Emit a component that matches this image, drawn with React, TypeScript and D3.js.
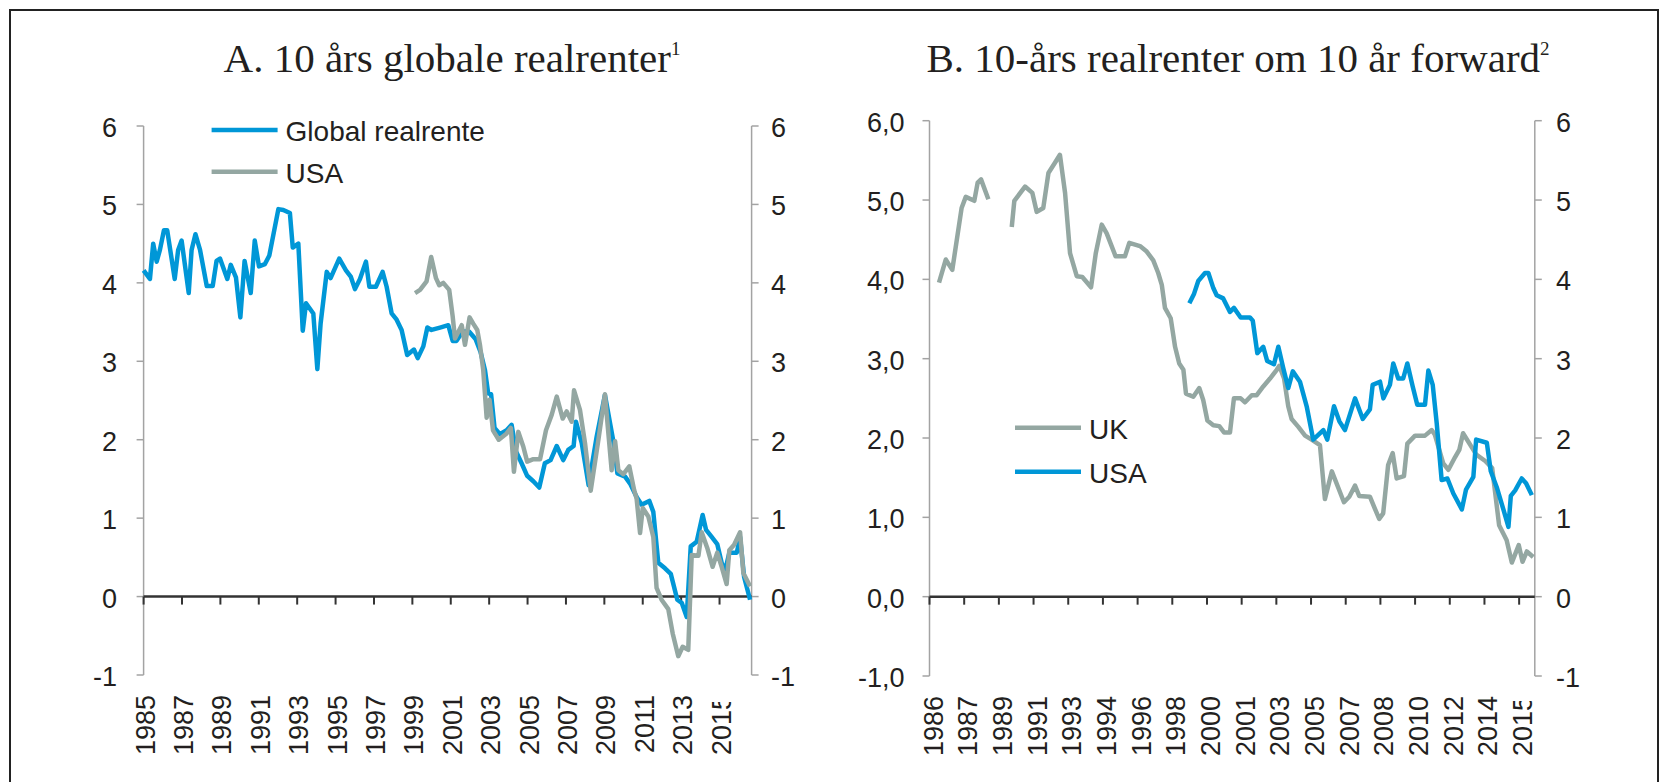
import React from 'react';
import * as d3 from 'd3';

// Panel A: 10 års globale realrenter (year, value)
const globalRealrente: [number, number][] = [
	[1985.0, 4.16], [1985.33, 4.05], [1985.5, 4.5], [1985.68, 4.27], [1985.85, 4.42], [1986.06, 4.67],
	[1986.23, 4.67], [1986.62, 4.05], [1986.8, 4.42], [1986.98, 4.54], [1987.35, 3.87], [1987.5, 4.42],
	[1987.7, 4.62], [1987.94, 4.42], [1988.29, 3.96], [1988.6, 3.96], [1988.8, 4.28], [1988.98, 4.31],
	[1989.36, 4.05], [1989.54, 4.23], [1989.81, 4.07], [1990.04, 3.56], [1990.26, 4.28], [1990.58, 3.87],
	[1990.79, 4.54], [1991.01, 4.21], [1991.32, 4.24], [1991.55, 4.35], [1992.02, 4.94], [1992.28, 4.93],
	[1992.62, 4.89], [1992.77, 4.45], [1993.06, 4.5], [1993.29, 3.39], [1993.46, 3.74], [1993.84, 3.61],
	[1994.05, 2.9], [1994.22, 3.48], [1994.54, 4.14], [1994.74, 4.06], [1995.19, 4.31], [1995.54, 4.16],
	[1995.79, 4.08], [1996.01, 3.92], [1996.27, 4.05], [1996.58, 4.27], [1996.76, 3.95], [1997.1, 3.95],
	[1997.45, 4.14], [1997.66, 3.95], [1997.92, 3.61], [1998.18, 3.53], [1998.44, 3.4], [1998.73, 3.08],
	[1999.08, 3.15], [1999.28, 3.04], [1999.57, 3.19], [1999.78, 3.43], [2000.0, 3.4], [2000.44, 3.43],
	[2000.87, 3.46], [2001.1, 3.26], [2001.3, 3.26], [2001.62, 3.38], [2001.95, 3.38], [2002.3, 3.28],
	[2002.55, 3.12], [2002.78, 2.89], [2002.95, 2.59], [2003.1, 2.58], [2003.28, 2.15], [2003.56, 2.07],
	[2003.91, 2.12], [2004.17, 2.19], [2004.4, 1.85], [2004.69, 1.7], [2004.98, 1.54], [2005.3, 1.47],
	[2005.61, 1.39], [2005.9, 1.7], [2006.2, 1.74], [2006.52, 1.92], [2006.86, 1.74], [2007.12, 1.87],
	[2007.4, 1.92], [2007.52, 2.23], [2007.82, 1.96], [2008.18, 1.42], [2008.6, 2.04], [2009.03, 2.57],
	[2009.47, 1.98], [2009.68, 1.57], [2010.08, 1.53], [2010.34, 1.44], [2010.68, 1.27], [2010.94, 1.17],
	[2011.34, 1.22], [2011.55, 1.08], [2011.81, 0.43], [2012.16, 0.36], [2012.46, 0.29], [2012.8, -0.04],
	[2013.03, -0.08], [2013.29, -0.26], [2013.5, 0.64], [2013.81, 0.7], [2014.12, 1.04], [2014.3, 0.85],
	[2014.59, 0.76], [2014.88, 0.67], [2015.11, 0.43], [2015.28, 0.32], [2015.51, 0.56], [2015.9, 0.56],
	[2016.07, 0.76], [2016.28, 0.25], [2016.59, -0.04],
];

const usaA: [number, number][] = [
	[1999.14, 3.87], [1999.4, 3.91], [1999.74, 4.02], [1999.98, 4.33], [2000.23, 4.06], [2000.4, 3.97],
	[2000.61, 4.0], [2000.92, 3.91], [2001.1, 3.57], [2001.22, 3.29], [2001.57, 3.46], [2001.74, 3.21],
	[2001.98, 3.56], [2002.17, 3.48], [2002.38, 3.4], [2002.52, 3.21], [2002.69, 2.89], [2002.87, 2.28],
	[2003.02, 2.51], [2003.2, 2.12], [2003.5, 2.0], [2003.91, 2.08], [2004.13, 2.15], [2004.29, 1.59],
	[2004.52, 2.1], [2004.78, 1.91], [2004.98, 1.72], [2005.27, 1.75], [2005.65, 1.75], [2005.96, 2.12],
	[2006.26, 2.32], [2006.52, 2.55], [2006.83, 2.27], [2007.04, 2.36], [2007.3, 2.23], [2007.42, 2.63],
	[2007.73, 2.38], [2007.99, 1.96], [2008.29, 1.35], [2008.69, 2.0], [2009.03, 2.58], [2009.38, 1.61],
	[2009.56, 1.98], [2009.73, 1.61], [2009.99, 1.56], [2010.3, 1.66], [2010.55, 1.36], [2010.68, 1.25],
	[2010.86, 0.81], [2011.0, 1.13], [2011.29, 1.02], [2011.55, 0.76], [2011.72, 0.11], [2011.98, -0.04],
	[2012.33, -0.16], [2012.56, -0.47], [2012.85, -0.76], [2013.08, -0.64], [2013.37, -0.68], [2013.55, 0.53],
	[2013.9, 0.52], [2014.07, 0.82], [2014.36, 0.62], [2014.64, 0.38], [2014.88, 0.56], [2015.11, 0.38],
	[2015.37, 0.16], [2015.51, 0.59], [2015.76, 0.66], [2016.07, 0.82], [2016.24, 0.3], [2016.59, 0.13],
];

// Panel B: 10-års realrenter om 10 år forward (NaN = gap in series)
const ukB: [number, number][] = [
	[1986.48, 3.96], [1986.82, 4.25], [1987.15, 4.12], [1987.62, 4.9], [1987.83, 5.04], [1988.26, 4.99],
	[1988.43, 5.22], [1988.6, 5.26], [1988.97, 5.01], [1989.5, NaN],
	[1990.15, 4.66], [1990.28, 4.99], [1990.82, 5.17], [1991.19, 5.09], [1991.41, 4.85], [1991.74, 4.9],
	[1992.0, 5.34], [1992.33, 5.47], [1992.58, 5.57], [1992.84, 5.09], [1993.09, 4.33], [1993.43, 4.04],
	[1993.71, 4.03], [1994.15, 3.9], [1994.39, 4.33], [1994.69, 4.69], [1994.94, 4.58], [1995.39, 4.29],
	[1995.86, 4.29], [1996.08, 4.46], [1996.62, 4.42], [1996.96, 4.35], [1997.29, 4.24], [1997.54, 4.08],
	[1997.72, 3.93], [1997.88, 3.64], [1998.17, 3.51], [1998.39, 3.15], [1998.6, 2.94], [1998.81, 2.86],
	[1998.94, 2.56], [1999.31, 2.52], [1999.61, 2.63], [1999.81, 2.48], [2000.02, 2.22], [2000.32, 2.16],
	[2000.62, 2.15], [2000.86, 2.07], [2001.16, 2.07], [2001.36, 2.5], [2001.7, 2.5], [2001.92, 2.45],
	[2002.26, 2.54], [2002.51, 2.54], [2002.84, 2.65], [2003.18, 2.75], [2003.52, 2.86], [2003.65, 2.91],
	[2003.89, 2.75], [2004.1, 2.4], [2004.27, 2.24], [2004.61, 2.14], [2004.95, 2.03], [2005.28, 1.98],
	[2005.7, 1.91], [2005.95, 1.23], [2006.3, 1.58], [2006.63, 1.37], [2006.91, 1.19], [2007.18, 1.26],
	[2007.47, 1.4], [2007.68, 1.27], [2008.22, 1.26], [2008.47, 1.11], [2008.69, 0.98], [2008.89, 1.05],
	[2009.14, 1.66], [2009.37, 1.81], [2009.57, 1.49], [2009.94, 1.52], [2010.11, 1.93], [2010.5, 2.03],
	[2011.0, 2.03], [2011.34, 2.1], [2011.5, 2.04], [2011.92, 1.68], [2012.18, 1.6], [2012.52, 1.76],
	[2012.73, 1.85], [2012.92, 2.06], [2013.59, 1.79], [2014.04, 1.71], [2014.39, 1.62], [2014.74, 0.9],
	[2015.12, 0.71], [2015.38, 0.43], [2015.73, 0.65], [2015.92, 0.44], [2016.14, 0.57], [2016.46, 0.5],
];

const usaB: [number, number][] = [
	[1999.11, 3.7], [1999.35, 3.82], [1999.56, 3.98], [1999.9, 4.08], [2000.07, 4.08], [2000.32, 3.89],
	[2000.49, 3.8], [2000.82, 3.76], [2001.16, 3.59], [2001.36, 3.64], [2001.7, 3.52], [2002.17, 3.52],
	[2002.31, 3.48], [2002.54, 3.07], [2002.84, 3.15], [2003.04, 2.97], [2003.38, 2.93], [2003.6, 3.15],
	[2003.85, 2.88], [2004.1, 2.63], [2004.33, 2.84], [2004.69, 2.71], [2005.03, 2.4], [2005.36, 1.98],
	[2005.87, 2.1], [2006.07, 1.98], [2006.41, 2.4], [2006.68, 2.21], [2006.96, 2.1], [2007.47, 2.5],
	[2007.86, 2.24], [2008.22, 2.36], [2008.36, 2.67], [2008.73, 2.71], [2008.9, 2.5], [2009.23, 2.67],
	[2009.4, 2.94], [2009.65, 2.75], [2009.9, 2.75], [2010.11, 2.94], [2010.38, 2.65], [2010.61, 2.42],
	[2011.0, 2.42], [2011.17, 2.85], [2011.39, 2.67], [2011.59, 2.19], [2011.84, 1.47], [2012.13, 1.49],
	[2012.43, 1.3], [2012.86, 1.1], [2013.07, 1.35], [2013.44, 1.51], [2013.58, 1.98], [2014.12, 1.94],
	[2014.32, 1.58], [2014.62, 1.38], [2014.92, 1.13], [2015.21, 0.88], [2015.33, 1.27], [2015.55, 1.34],
	[2015.88, 1.49], [2016.1, 1.43], [2016.39, 1.28],
];

const aTickLabels = ['1985', '1987', '1989', '1991', '1993', '1995', '1997', '1999', '2001', '2003', '2005', '2007', '2009', '2011', '2013', '2015'];
const bTickLabels = ['1986', '1987', '1989', '1991', '1993', '1994', '1996', '1998', '2000', '2001', '2003', '2005', '2007', '2008', '2010', '2012', '2014', '2015'];
const yValues = [-1, 0, 1, 2, 3, 4, 5, 6];
const aLeftLabels = ['-1', '0', '1', '2', '3', '4', '5', '6'];
const bLeftLabels = ['-1,0', '0,0', '1,0', '2,0', '3,0', '4,0', '5,0', '6,0'];
const rightLabels = ['-1', '0', '1', '2', '3', '4', '5', '6'];

const SANS = '"Liberation Sans", Arial, Helvetica, sans-serif';
const SERIF = '"Liberation Serif", "Times New Roman", serif';
const BLUE = '#0097d7';
const GRAY = '#94a7a2';
const INK = '#231f20';
const AXIS = '#a3a3a3';
const FS = 27;

function Panel(props) {
	const {
		id, title, sup, titleX, x0, x1, yTop, yBot, xDomain, tickYears, tickLabels,
		leftLabels, leftLabelX, rightLabelX, labelDx, series, legend, lastClipY,
	} = props;

	const xscale = d3.scaleLinear().domain(xDomain).range([x0, x1]);
	const yscale = d3.scaleLinear().domain([-1, 6]).range([yBot, yTop]);
	const line = d3
		.line<[number, number]>()
		.defined((d) => !isNaN(d[1]))
		.x((d) => xscale(d[0]))
		.y((d) => yscale(d[1]));
	const y0 = yscale(0);
	// the last category label is cut off at its top, as in the original
	const lastX = xscale(tickYears[tickYears.length - 1]);

	return (
		<g>
			<defs>
				<clipPath id={`clip-${id}`}>
					<rect x={x0 - 60} y={yBot} width={lastX - 15 - (x0 - 60)} height={120} />
					<rect x={lastX - 15} y={lastClipY} width={80} height={120} />
				</clipPath>
			</defs>
			{/* Title */}
			<text x={titleX} y={72} textAnchor="middle" fontFamily={SERIF} fontSize={41} fill={INK}>
				{title}
				<tspan fontSize={19} dy={-17}>{sup}</tspan>
			</text>

			{/* Left axis */}
			<line x1={x0} x2={x0} y1={yTop} y2={yBot} stroke={AXIS} strokeWidth={1.5} />
			{yValues.map((v, i) => (
				<g key={`l${v}`}>
					<line x1={x0 - 7} x2={x0} y1={yscale(v)} y2={yscale(v)} stroke={AXIS} strokeWidth={1.5} />
					<text x={leftLabelX} y={yscale(v) + 11} textAnchor="end" fontFamily={SANS} fontSize={FS} fill={INK}>
						{leftLabels[i]}
					</text>
				</g>
			))}

			{/* Right axis */}
			<line x1={x1} x2={x1} y1={yTop} y2={yBot} stroke={AXIS} strokeWidth={1.5} />
			{yValues.map((v, i) => (
				<g key={`r${v}`}>
					<line x1={x1} x2={x1 + 7} y1={yscale(v)} y2={yscale(v)} stroke={AXIS} strokeWidth={1.5} />
					<text x={rightLabelX} y={yscale(v) + 11} textAnchor="start" fontFamily={SANS} fontSize={FS} fill={INK}>
						{rightLabels[i]}
					</text>
				</g>
			))}

			{/* Zero line with category ticks */}
			<line x1={x0} x2={x1} y1={y0} y2={y0} stroke="#333" strokeWidth={2.5} />
			{tickYears.map((t) => (
				<line key={`t${t}`} x1={xscale(t)} x2={xscale(t)} y1={y0} y2={y0 + 8} stroke="#333" strokeWidth={2} />
			))}

			{/* Rotated x labels */}
			<g clipPath={`url(#clip-${id})`}>
				{tickYears.map((t, i) => (
					<text
						key={`xl${t}`}
						transform={`translate(${xscale(t) + labelDx}, ${yBot + 20}) rotate(-90)`}
						textAnchor="end"
						fontFamily={SANS}
						fontSize={FS}
						fill={INK}
					>
						{tickLabels[i]}
					</text>
				))}
			</g>

			{/* Series */}
			{series.map((s) => (
				<path
					key={s.name}
					d={line(s.data)}
					fill="none"
					stroke={s.color}
					strokeWidth={4.5}
					strokeLinejoin="round"
				/>
			))}

			{/* Legend */}
			{legend.items.map((it, i) => (
				<g key={it.name}>
					<line
						x1={legend.x}
						x2={legend.x + 66}
						y1={legend.ys[i]}
						y2={legend.ys[i]}
						stroke={it.color}
						strokeWidth={4.5}
					/>
					<text x={legend.x + 74} y={legend.ys[i] + 11} fontFamily={SANS} fontSize={FS + 1} fill={INK}>
						{it.name}
					</text>
				</g>
			))}
		</g>
	);
}

export default function App() {
	const aTickYears = aTickLabels.map((l) => +l);
	// category axis of chart B: one label every 7 quarters
	const bTickYears = bTickLabels.map((_, i) => 1986 + i * 1.75);

	return (
		<svg
			width={1664}
			height={782}
			style={{ position: 'absolute', left: 0, top: 0, background: '#fff' }}
		>
			<rect x={0} y={0} width={1664} height={782} fill="#fff" />
			<rect x={10} y={10} width={1648} height={800} fill="none" stroke="#222" strokeWidth={2} />

			<Panel
				id="a"
				title="A. 10 års globale realrenter"
				sup="1"
				titleX={452}
				x0={143.6}
				x1={751.6}
				yTop={126}
				yBot={675}
				xDomain={[1985, 2016.67]}
				tickYears={aTickYears}
				tickLabels={aTickLabels}
				leftLabels={aLeftLabels}
				leftLabelX={117}
				rightLabelX={771}
				labelDx={11}
				lastClipY={702}
				series={[
					{ name: 'Global realrente', data: globalRealrente, color: BLUE },
					{ name: 'USA', data: usaA, color: GRAY },
				]}
				legend={{
					x: 211.6,
					ys: [130, 171.7],
					items: [
						{ name: 'Global realrente', color: BLUE },
						{ name: 'USA', color: GRAY },
					],
				}}
			/>

			<Panel
				id="b"
				title="B. 10-års realrenter om 10 år forward"
				sup="2"
				titleX={1238}
				x0={929.5}
				x1={1534.8}
				yTop={120.7}
				yBot={676}
				xDomain={[1986, 2016.54]}
				tickYears={bTickYears}
				tickLabels={bTickLabels}
				leftLabels={bLeftLabels}
				leftLabelX={904.5}
				rightLabelX={1556}
				labelDx={13}
				lastClipY={701}
				series={[
					{ name: 'UK', data: ukB, color: GRAY },
					{ name: 'USA', data: usaB, color: BLUE },
				]}
				legend={{
					x: 1015,
					ys: [427.7, 471.7],
					items: [
						{ name: 'UK', color: GRAY },
						{ name: 'USA', color: BLUE },
					],
				}}
			/>
		</svg>
	);
}
